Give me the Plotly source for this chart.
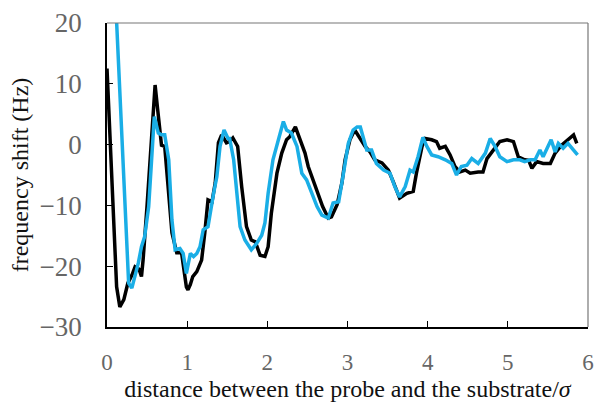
import plotly.graph_objects as go

# Black curve
black_x = [0.00, 0.04, 0.08, 0.12, 0.16, 0.21, 0.26, 0.31, 0.35, 0.40, 0.43, 0.45, 0.50, 0.54, 0.57, 0.60,
           0.63, 0.66, 0.68, 0.72, 0.76, 0.81, 0.87, 0.93, 0.99, 1.01, 1.04, 1.07, 1.12, 1.18, 1.22, 1.26,
           1.31, 1.35, 1.39, 1.43, 1.49, 1.53, 1.57, 1.63, 1.68, 1.74, 1.80, 1.85, 1.91, 1.97, 2.01, 2.05,
           2.12, 2.18, 2.24, 2.28, 2.35, 2.41, 2.47, 2.51, 2.57, 2.63, 2.69, 2.76, 2.80, 2.87, 2.93, 2.97,
           3.03, 3.09, 3.13, 3.18, 3.22, 3.28, 3.34, 3.43, 3.51, 3.57, 3.65, 3.74, 3.82, 3.86, 3.93, 3.97,
           4.05, 4.11, 4.15, 4.22, 4.28, 4.34, 4.40, 4.47, 4.53, 4.63, 4.69, 4.74, 4.82, 4.90, 4.99, 5.07,
           5.13, 5.21, 5.26, 5.30, 5.36, 5.44, 5.53, 5.59, 5.67, 5.75, 5.82, 5.86]
black_y = [12.5, 0.0, -12.4, -23.4, -26.7, -25.5, -22.8, -21.5, -20.1, -20.5, -21.7, -19.0, -10.0, -1.4, 5.0, 9.8,
           6.0, 2.4, -0.1, -0.3, -6.9, -14.5, -17.8, -17.8, -23.4, -23.9, -23.0, -21.7, -20.9, -19.0, -14.5, -9.1,
           -9.4, -6.3, 0.3, 1.6, 0.3, 0.5, 1.1, -0.3, -6.9, -13.5, -15.7, -16.0, -18.2, -18.4, -16.8, -11.3,
           -4.7, -1.4, 0.8, 1.3, 2.9, 0.8, -1.4, -3.6, -5.8, -8.0, -10.2, -12.1, -11.9, -9.9, -6.3, -2.5,
           0.8, 2.4, 1.6, 0.5, -0.3, -1.2, -2.5, -3.0, -4.2, -6.1, -8.8, -8.0, -7.7, -4.7, -0.3, 1.0,
           0.8, 0.5, -0.6, -0.3, -1.7, -3.6, -4.5, -4.2, -4.7, -4.5, -4.5, -2.3, -0.9, 0.5, 0.8, 0.5,
           -2.0, -2.5, -2.6, -3.9, -2.8, -3.1, -3.1, -1.4, -0.1, 0.8, 1.6, 0.2]

# Blue curve
blue_x = [0.11, 0.15, 0.20, 0.24, 0.27, 0.31, 0.35, 0.39, 0.43, 0.47, 0.52, 0.56, 0.59, 0.62, 0.64, 0.68,
          0.72, 0.77, 0.81, 0.85, 0.91, 0.95, 0.99, 1.04, 1.08, 1.12, 1.16, 1.20, 1.26, 1.33, 1.37, 1.41,
          1.46, 1.51, 1.53, 1.58, 1.62, 1.66, 1.72, 1.80, 1.87, 1.93, 1.97, 2.01, 2.07, 2.14, 2.20, 2.24,
          2.30, 2.37, 2.43, 2.49, 2.55, 2.62, 2.68, 2.76, 2.82, 2.89, 2.95, 3.01, 3.07, 3.12, 3.16, 3.20,
          3.24, 3.30, 3.36, 3.45, 3.53, 3.59, 3.65, 3.72, 3.78, 3.82, 3.88, 3.94, 3.99, 4.05, 4.13, 4.22,
          4.30, 4.36, 4.42, 4.49, 4.55, 4.63, 4.72, 4.78, 4.84, 4.90, 4.99, 5.07, 5.15, 5.21, 5.28, 5.34,
          5.40, 5.44, 5.50, 5.54, 5.59, 5.63, 5.69, 5.75, 5.82, 5.87]
blue_y = [23.0, 12.0, -1.4, -14.0, -22.8, -23.6, -21.7, -19.5, -16.8, -15.1, -10.2, -0.3, 4.6, 3.0, 1.9, 1.6,
          1.6, -2.5, -12.4, -17.3, -17.1, -17.9, -21.2, -17.9, -18.4, -17.9, -16.8, -14.0, -13.5, -8.0, -5.3, -0.3,
          2.4, 1.0, 1.0, -2.5, -8.6, -13.5, -15.7, -17.3, -16.2, -14.9, -12.9, -8.0, -2.5, 0.8, 3.8, 2.4,
          1.9, -0.3, -4.7, -5.8, -8.0, -10.2, -11.6, -12.1, -9.6, -9.4, -4.7, 0.2, 2.4, 2.9, 2.9, 0.8,
          -0.9, -0.9, -3.1, -4.2, -4.7, -6.9, -8.6, -6.9, -4.2, -4.5, -2.0, 1.2, -0.3, -1.7, -2.0, -2.5,
          -3.1, -5.0, -3.6, -3.4, -2.3, -3.1, -1.4, 1.0, -0.3, -2.0, -2.8, -2.5, -2.5, -2.8, -2.5, -2.5,
          -0.9, -2.0, -0.1, 0.8, -1.2, 0.2, -0.6, 0.2, -0.9, -1.7]

x_ticks = [0, 1, 2, 3, 4, 5, 6]
y_ticks = [-30, -20, -10, 0, 10, 20]

fig = go.Figure()
fig.add_trace(go.Scatter(x=black_x, y=black_y, mode="lines",
                         line=dict(color="#000000", width=3.5), showlegend=False))
fig.add_trace(go.Scatter(x=blue_x, y=blue_y, mode="lines",
                         line=dict(color="#1AAEE6", width=3.5), showlegend=False))

font = "Liberation Serif, Times New Roman, serif"
fig.update_layout(
    width=597, height=402,
    margin=dict(l=107, r=9, t=23, b=75),
    paper_bgcolor="white", plot_bgcolor="white",
    font=dict(family=font, size=26, color="#666666"),
    xaxis=dict(range=[0, 6], tickvals=x_ticks, ticks="inside", ticklen=6, tickwidth=1.2,
               tickcolor="#000000", showline=True, linecolor="#000000", linewidth=1.5,
               showgrid=False, zeroline=False, ticklabelstandoff=14, automargin=False,
               tickfont=dict(family=font, size=23, color="#666666"),
               title=dict(text="distance between the probe and the substrate/<i>σ</i>",
                          font=dict(family=font, size=24, color="#111111"), standoff=6)),
    yaxis=dict(range=[-30, 20], tickvals=y_ticks, ticks="inside", ticklen=6, tickwidth=1.2,
               tickcolor="#000000", showline=True, linecolor="#000000", linewidth=1.5,
               showgrid=False, zeroline=False, ticklabelstandoff=18, automargin=False,
               tickfont=dict(family=font, size=27, color="#666666"),
               title=dict(text="frequency shift (Hz)",
                          font=dict(family=font, size=24, color="#111111"), standoff=4)),
    shapes=[
        dict(type="line", xref="paper", yref="paper", x0=0, x1=1, y0=1, y1=1,
             line=dict(color="#777777", width=1.2)),
        dict(type="line", xref="paper", yref="paper", x0=1, x1=1, y0=0, y1=1,
             line=dict(color="#777777", width=1.2)),
    ],
)

fig.write_html("out.html")
